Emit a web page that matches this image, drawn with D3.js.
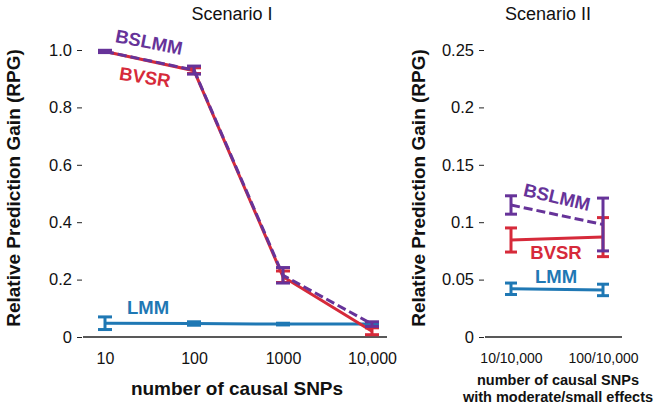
<!DOCTYPE html>
<html><head><meta charset="utf-8">
<script src="https://cdn.jsdelivr.net/npm/d3@7"></script>
<style>
body{margin:0;background:#fff;}
svg{display:block;font-family:"Liberation Sans",Arial,Helvetica,sans-serif;}
</style></head>
<body>
<svg id="chart" width="661" height="408"></svg>
<script>
// ---- data ----
const scen1Cats = ["10", "100", "1000", "10,000"];
const bslmm1 = [0.995, 0.93, 0.215, 0.045];
const bslmm1Err = [0.004, 0.014, 0.027, 0.008];
const bvsr1 = [0.995, 0.928, 0.21, 0.02];
const bvsr1Err = [0.003, 0.01, 0.02, 0.012];
const lmm1 = [0.048, 0.047, 0.045, 0.045];
const lmm1Err = [0.022, 0.006, 0.003, 0.002];
const yTicks1 = [0, 0.2, 0.4, 0.6, 0.8, 1.0];
const yTickLabels1 = ["0", "0.2", "0.4", "0.6", "0.8", "1.0"];

const scen2Cats = ["10/10,000", "100/10,000"];
const bslmm2 = [0.115, 0.098];
const bslmm2Err = [0.008, 0.023];
const bvsr2 = [0.0845, 0.087];
const bvsr2Err = [0.0105, 0.017];
const lmm2 = [0.042, 0.041];
const lmm2Err = [0.005, 0.005];
const yTicks2 = [0, 0.05, 0.1, 0.15, 0.2, 0.25];
const yTickLabels2 = ["0", "0.05", "0.1", "0.15", "0.2", "0.25"];

const COL = {BSLMM: "#663399", BVSR: "#d62a3a", LMM: "#1f78b4"};

const svg = d3.select("#chart");

function panel(opt) {
  const g = svg.append("g");
  const x = d3.scalePoint().domain(opt.cats).range(opt.xRange);
  const y = d3.scaleLinear().domain(opt.yDomain).range([337, 50]);

  // y axis
  const ya = d3.axisLeft(y).tickValues(opt.yTicks)
    .tickFormat((d, i) => opt.yLabels[i]).tickSize(5).tickPadding(5);
  const yg = g.append("g").attr("transform", `translate(${opt.axisX},0)`).call(ya);
  yg.select(".domain").remove();
  yg.selectAll("line").attr("stroke", "#222").attr("stroke-width", 1);
  yg.selectAll("text").attr("font-size", opt.tickFs).attr("fill", "#111")
    .attr("font-family", "Liberation Sans, Arial, sans-serif");

  // baseline
  g.append("line").attr("x1", opt.baseX[0]).attr("x2", opt.baseX[1])
    .attr("y1", y(0)).attr("y2", y(0)).attr("stroke", "#222").attr("stroke-width", 1.3);

  // x axis labels
  const xa = d3.axisBottom(x).tickSize(0).tickPadding(opt.xPad);
  const xg = g.append("g").attr("transform", `translate(0,${y(0)})`).call(xa);
  xg.select(".domain").remove();
  xg.selectAll("text").attr("font-size", opt.xTickFs).attr("fill", "#111")
    .attr("font-family", "Liberation Sans, Arial, sans-serif");

  const series = [
    {name: "LMM", v: opt.lmm, e: opt.lmmE, dash: null},
    {name: "BVSR", v: opt.bvsr, e: opt.bvsrE, dash: null},
    {name: "BSLMM", v: opt.bslmm, e: opt.bslmmE, dash: "9,4"}
  ];
  const line = d3.line().x((d, i) => x(opt.cats[i])).y(d => y(d));
  series.forEach(s => {
    const c = COL[s.name];
    const eg = g.append("g").attr("stroke", c).attr("stroke-width", 3).attr("fill", "none");
    s.v.forEach((v, i) => {
      const cx = x(opt.cats[i]);
      const hw = opt.capW / 2;
      eg.append("line").attr("x1", cx).attr("x2", cx).attr("y1", y(v - s.e[i])).attr("y2", y(v + s.e[i]));
      eg.append("line").attr("x1", cx - hw).attr("x2", cx + hw).attr("y1", y(v - s.e[i])).attr("y2", y(v - s.e[i]));
      eg.append("line").attr("x1", cx - hw).attr("x2", cx + hw).attr("y1", y(v + s.e[i])).attr("y2", y(v + s.e[i]));
    });
    g.append("path").attr("d", line(s.v)).attr("fill", "none").attr("stroke", c)
      .attr("stroke-width", 3).attr("stroke-dasharray", s.dash);
  });

  // labels
  opt.labels.forEach(l => {
    g.append("text").attr("transform", `translate(${l.x},${l.y}) rotate(${l.r})`)
      .attr("text-anchor", "middle").attr("dy", "0.35em")
      .attr("font-size", 18.5).attr("font-weight", "bold").attr("fill", COL[l.name]).text(l.name);
  });

  // title
  g.append("text").attr("x", opt.titleX).attr("y", 14).attr("dy", "0.35em")
    .attr("text-anchor", "middle").attr("font-size", 18).attr("fill", "#111").text(opt.title);

  // y title
  g.append("text").attr("transform", `translate(${opt.yTitleX},188) rotate(-90)`)
    .attr("text-anchor", "middle").attr("dy", "0.35em")
    .attr("font-size", 19).attr("font-weight", "bold").attr("fill", "#111")
    .text("Relative Prediction Gain (RPG)");

  // x title
  opt.xTitle.forEach((t, i) => {
    g.append("text").attr("x", opt.xTitleX).attr("y", opt.xTitleY[i]).attr("dy", "0.35em")
      .attr("text-anchor", "middle").attr("font-size", opt.xTitleFs).attr("font-weight", "bold")
      .attr("fill", "#111").text(t);
  });
}

panel({
  cats: scen1Cats, xRange: [105, 372], yDomain: [0, 1], axisX: 82, baseX: [83, 387],
  yTicks: yTicks1, yLabels: yTickLabels1, tickFs: 16.5, xTickFs: 16, xPad: 16, capW: 14,
  bslmm: bslmm1, bslmmE: bslmm1Err, bvsr: bvsr1, bvsrE: bvsr1Err, lmm: lmm1, lmmE: lmm1Err,
  labels: [
    {name: "BSLMM", x: 149, y: 42, r: 11},
    {name: "BVSR", x: 145, y: 77, r: 9},
    {name: "LMM", x: 148, y: 308, r: 0}
  ],
  title: "Scenario I", titleX: 232, yTitleX: 13,
  xTitle: ["number of causal SNPs"], xTitleX: 237, xTitleY: [388], xTitleFs: 19
});

panel({
  cats: scen2Cats, xRange: [511, 603], yDomain: [0, 0.25], axisX: 484, baseX: [485, 622],
  yTicks: yTicks2, yLabels: yTickLabels2, tickFs: 16.5, xTickFs: 14, xPad: 16, capW: 12,
  bslmm: bslmm2, bslmmE: bslmm2Err, bvsr: bvsr2, bvsrE: bvsr2Err, lmm: lmm2, lmmE: lmm2Err,
  labels: [
    {name: "BSLMM", x: 557, y: 197, r: 13},
    {name: "BVSR", x: 556, y: 253, r: 0},
    {name: "LMM", x: 556, y: 277, r: 0}
  ],
  title: "Scenario II", titleX: 548, yTitleX: 418,
  xTitle: ["number of causal SNPs", "with moderate/small effects"], xTitleX: 558,
  xTitleY: [380, 397], xTitleFs: 14.5
});
</script>
</body></html>
